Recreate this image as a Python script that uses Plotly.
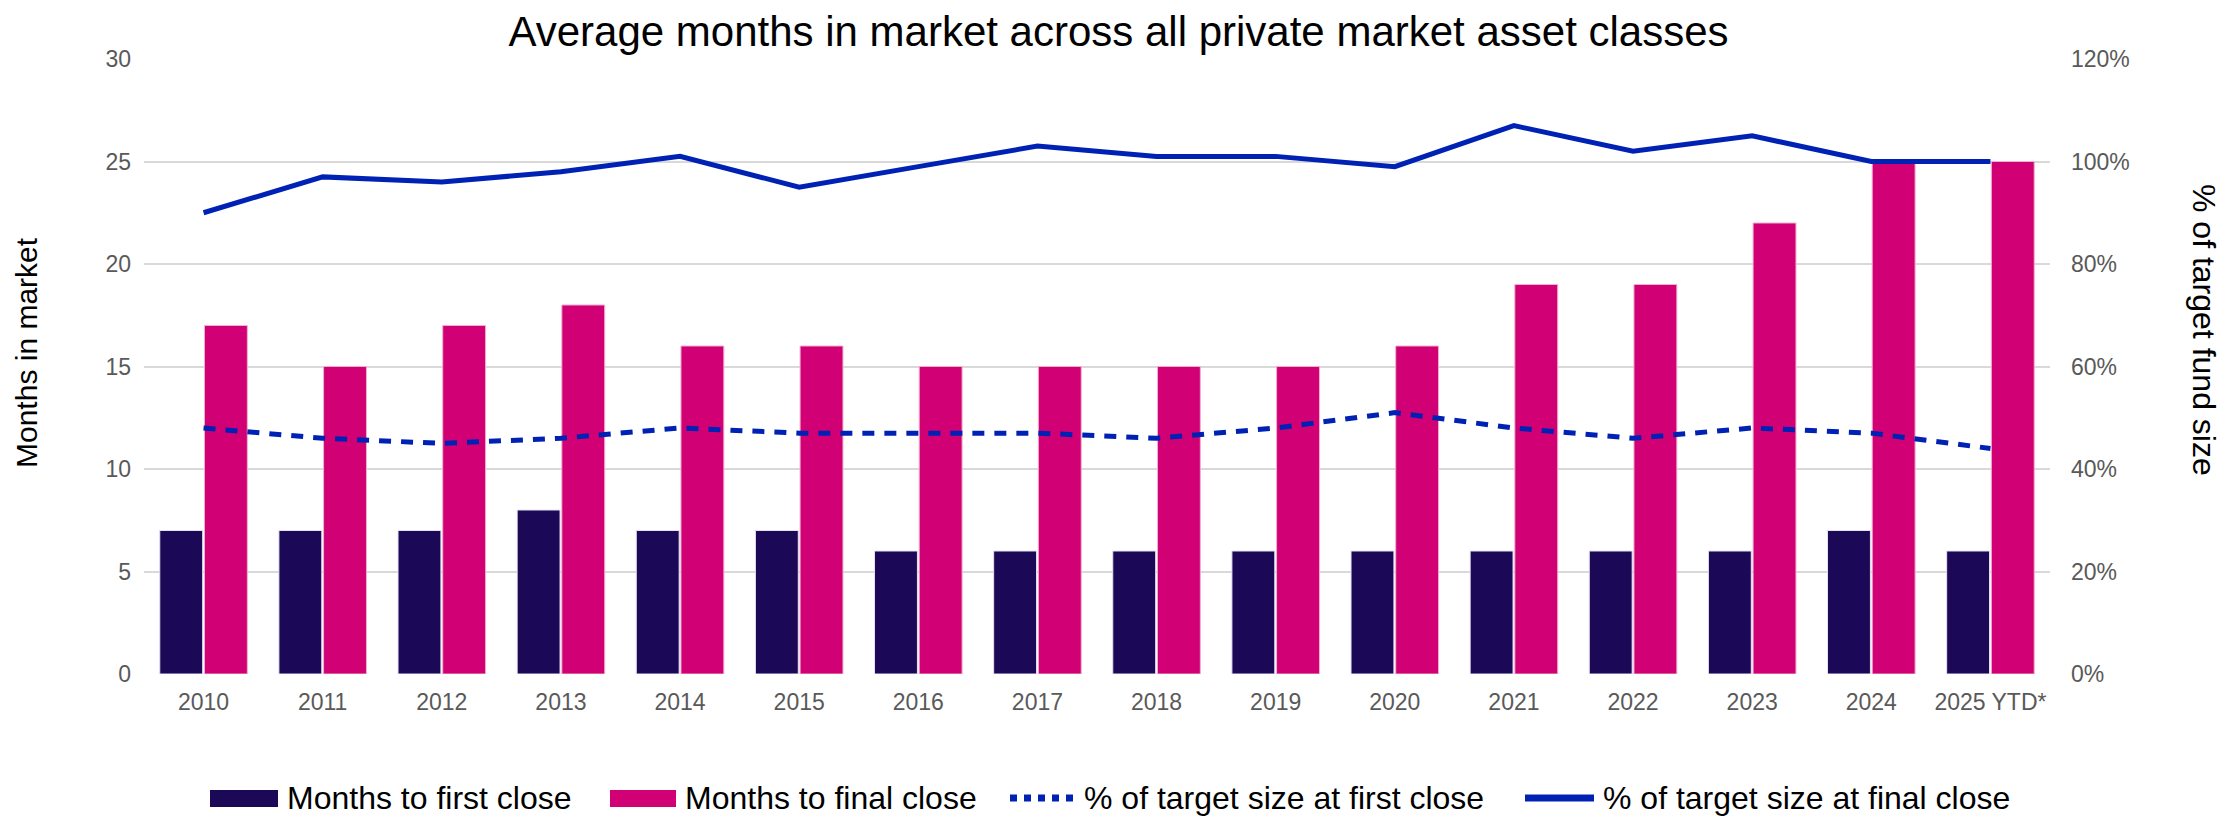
import plotly.graph_objects as go

years = ['2010', '2011', '2012', '2013', '2014', '2015', '2016', '2017',
         '2018', '2019', '2020', '2021', '2022', '2023', '2024', '2025 YTD*']
months_first = [7, 7, 7, 8, 7, 7, 6, 6, 6, 6, 6, 6, 6, 6, 7, 6]
months_final = [17, 15, 17, 18, 16, 16, 15, 15, 15, 15, 16, 19, 19, 22, 25, 25]
pct_first = [0.48, 0.46, 0.45, 0.46, 0.48, 0.47, 0.47, 0.47,
             0.46, 0.48, 0.51, 0.48, 0.46, 0.48, 0.47, 0.44]
pct_final = [0.90, 0.97, 0.96, 0.98, 1.01, 0.95, 0.99, 1.03,
             1.01, 1.01, 0.99, 1.07, 1.02, 1.05, 1.00, 1.00]

legend_names = ['Months to first close', 'Months to final close',
                '% of target size at first close', '% of target size at final close']

NAVY = '#1b0856'
MAGENTA = '#d10074'
BLUE = '#0022b4'
FONT = 'Liberation Sans, Arial, sans-serif'

# page body has an 8px margin, so the figure is drawn 8px smaller
W, H = 2221, 814
L, R, T, B = 136, 179, 51, 148
PW = W - L - R
PH = H - T - B


def px_x(x):
    # x pixel on the page -> paper coordinate
    return (x - 8 - L) / PW


def px_y(y):
    return (H - B + 8 - y) / PH


fig = go.Figure()
fig.add_trace(go.Bar(
    x=years, y=months_first, name=legend_names[0],
    marker=dict(color=NAVY, line=dict(color='#e6e0f0', width=1))
))
fig.add_trace(go.Bar(
    x=years, y=months_final, name=legend_names[1],
    marker=dict(color=MAGENTA, line=dict(color='#f0b0d0', width=1))
))
fig.add_trace(go.Scatter(
    x=years, y=pct_first, name=legend_names[2],
    mode='lines', yaxis='y2',
    line=dict(color=BLUE, width=5, dash='12px,10px')
))
fig.add_trace(go.Scatter(
    x=years, y=pct_final, name=legend_names[3],
    mode='lines', yaxis='y2',
    line=dict(color=BLUE, width=5)
))

# hand-drawn legend (wide swatches like the original)
leg_y = px_y(798)
swatches = [(210, 278), (610, 676), (1010, 1075), (1525, 1594)]
shapes = []
annotations = []
for i, (a, b) in enumerate(swatches):
    if i == 0 or i == 1:
        shapes.append(dict(type='rect', xref='paper', yref='paper',
                           x0=px_x(a), x1=px_x(b), y0=px_y(807), y1=px_y(790),
                           fillcolor=[NAVY, MAGENTA][i], line=dict(width=0)))
    else:
        shapes.append(dict(type='line', xref='paper', yref='paper',
                           x0=px_x(a), x1=px_x(b), y0=leg_y, y1=leg_y,
                           line=dict(color=BLUE, width=7,
                                     dash='dot' if i == 2 else 'solid')))
    annotations.append(dict(text=legend_names[i], xref='paper', yref='paper',
                            x=px_x(b + 7), xanchor='left', y=leg_y, yanchor='middle',
                            showarrow=False,
                            font=dict(size=32, color='black', family=FONT)))

annotations.append(dict(text='Months in market', xref='paper', yref='paper',
                        x=px_x(26), xanchor='center', y=px_y(353), yanchor='middle',
                        textangle=-90, showarrow=False,
                        font=dict(size=30, color='black', family=FONT)))
annotations.append(dict(text='% of target fund size', xref='paper', yref='paper',
                        x=px_x(2204), xanchor='center', y=px_y(330), yanchor='middle',
                        textangle=90, showarrow=False,
                        font=dict(size=32, color='black', family=FONT)))

fig.update_layout(
    width=W, height=H,
    margin=dict(l=L, r=R, t=T, b=B, autoexpand=False),
    paper_bgcolor='white', plot_bgcolor='white',
    font=dict(family=FONT, color='#595959'),
    title=dict(
        text='Average months in market across all private market asset classes',
        x=0.5, xref='container', xanchor='center',
        y=0.972, yref='container', yanchor='middle',
        font=dict(size=42, color='black', family=FONT)
    ),
    showlegend=False,
    barmode='group', bargap=0.25, bargroupgap=0.04,
    xaxis=dict(
        showgrid=False, showline=False, zeroline=False, tickangle=0,
        ticklabelstandoff=12,
        tickfont=dict(size=23, color='#595959')
    ),
    yaxis=dict(
        range=[0, 30], dtick=5, showgrid=True, gridcolor='#d9d9d9', gridwidth=2,
        zeroline=False, showline=False, ticklabelstandoff=12,
        tickfont=dict(size=23, color='#595959')
    ),
    yaxis2=dict(
        range=[0, 1.2], dtick=0.2, tickformat='.0%', overlaying='y', side='right',
        showgrid=False, zeroline=False, showline=False, ticklabelstandoff=20,
        tickfont=dict(size=23, color='#595959')
    ),
    shapes=shapes,
    annotations=annotations,
)

fig.write_html('out.html')
